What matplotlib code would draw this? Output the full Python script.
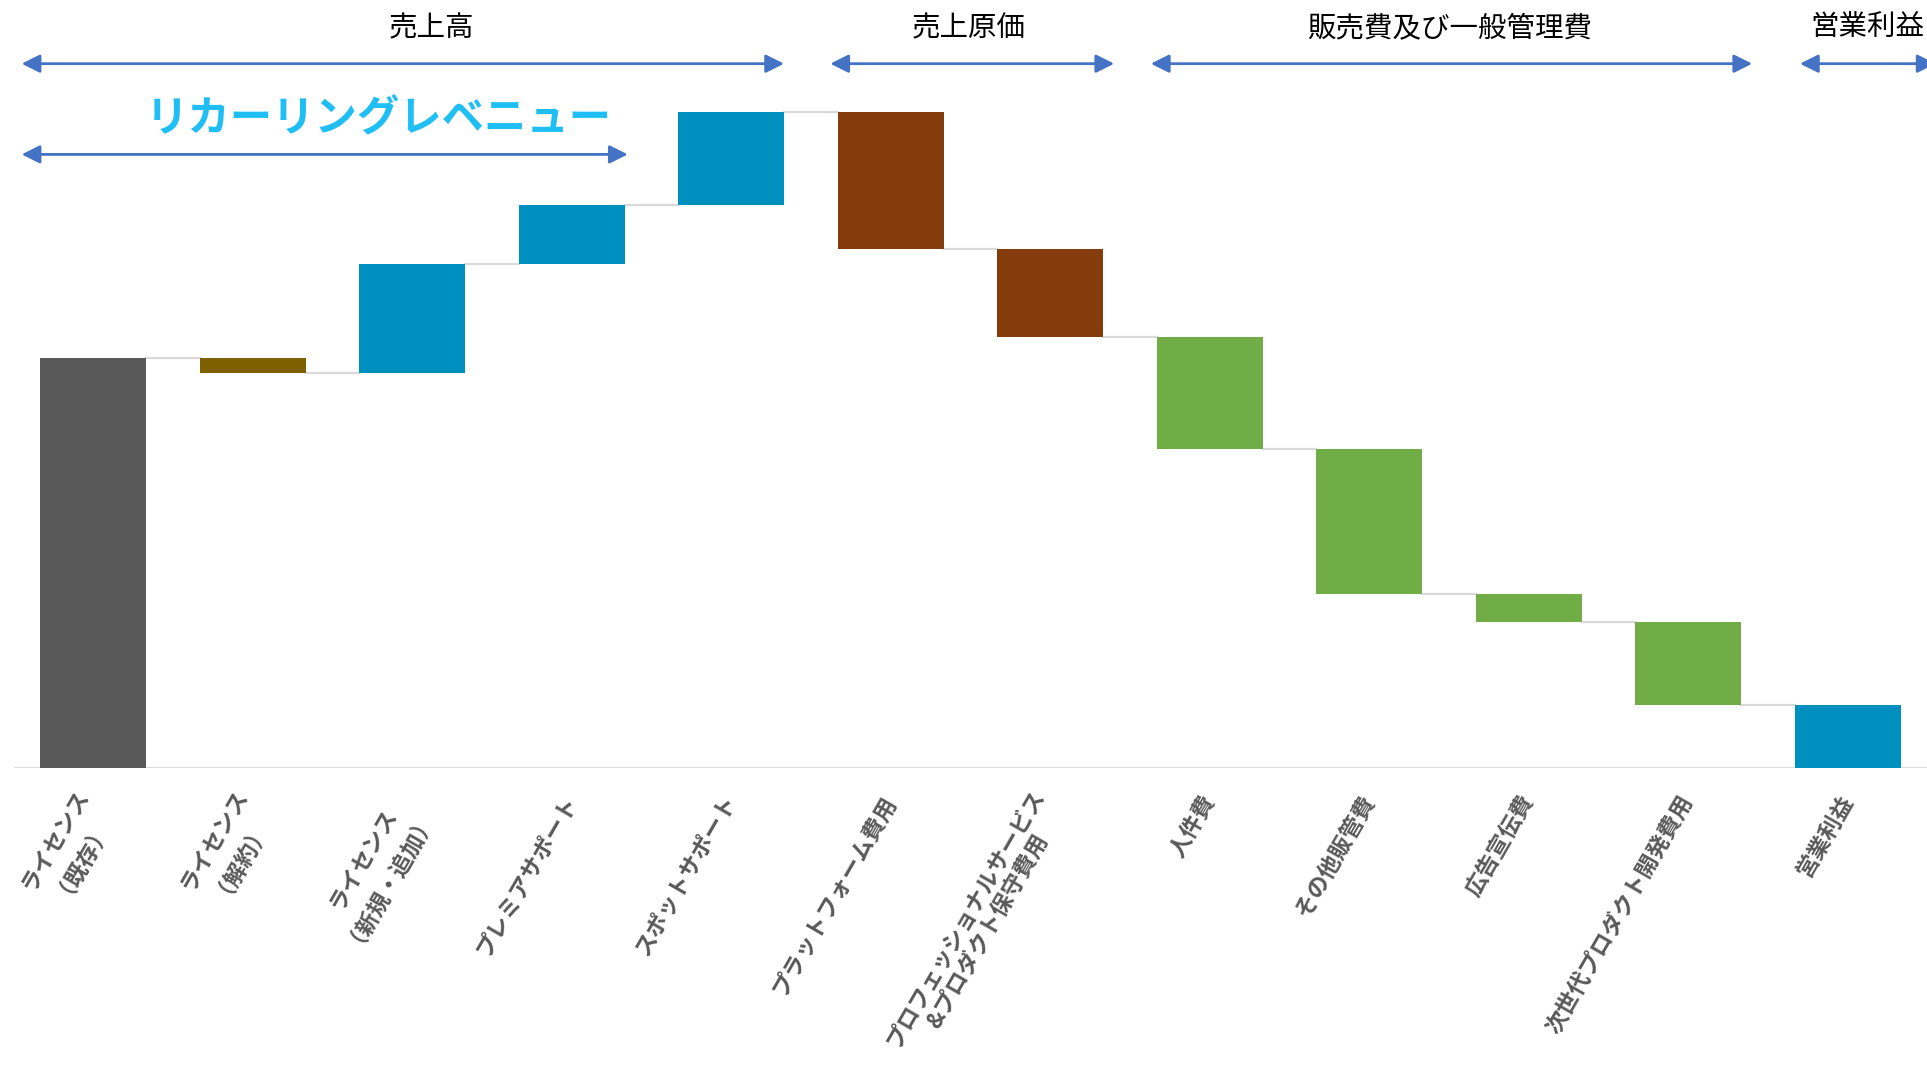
import matplotlib
matplotlib.use("Agg")
import matplotlib.pyplot as plt

plt.rcParams['font.family'] = ['Noto Sans CJK JP', 'DejaVu Sans']

# waterfall data (arbitrary units)
categories = ['ライセンス\n（既存）', 'ライセンス\n（解約）', 'ライセンス\n（新規・追加）',
              'プレミアサポート', 'スポットサポート', 'プラットフォーム費用',
              'プロフェッショナルサービス\n&プロダクト保守費用', '人件費', 'その他販管費',
              '広告宣伝費', '次世代プロダクト開発費用', '営業利益']
values = [91.7, -3.4, 24.4, 13.3, 20.7, -30.6, -19.7, -25.0, -32.4, -6.3, -18.7, 14.0]
is_total = [True, False, False, False, False, False, False, False, False, False, False, True]
bar_colors = ['#595959', '#7F6000', '#0090BF', '#0090BF', '#0090BF', '#843C0C',
              '#843C0C', '#70AD47', '#70AD47', '#70AD47', '#70AD47', '#0090BF']

# section headers above the chart: (label, arrow start, arrow end, label x)
groups = [('売上高', -0.45, 4.33, 2.12),
          ('売上原価', 4.62, 6.40, 5.49),
          ('販売費及び一般管理費', 6.63, 10.40, 8.50),
          ('営業利益', 10.70, 11.55, 11.12)]
recurring = ('リカーリングレベニュー', -0.45, 3.35, 1.79)

arrow_col = '#4472C4'

fig = plt.figure(figsize=(19.27, 10.68), dpi=100)
ax = fig.add_axes([0.0071, 0.2809, 0.9932, 0.7191])

# bottoms and heights from running totals
bottoms = []
heights = []
levels = []
run = 0
for v, tot in zip(values, is_total):
    if tot:
        bottoms.append(0)
        heights.append(v)
        run = v
    else:
        bottoms.append(min(run, run + v))
        heights.append(abs(v))
        run = run + v
    levels.append(run)

x = list(range(len(values)))
w = 0.665
ax.bar(x, heights, bottom=bottoms, width=w, color=bar_colors, zorder=3)

# connectors
for i in range(len(values) - 1):
    ax.plot([i + w / 2, i + 1 - w / 2], [levels[i], levels[i]], color='#D9D9D9', lw=1.6, zorder=2)

ax.axhline(0, color='#D9D9D9', lw=2, zorder=1)

ax.set_xlim(-0.5, 11.5)
ax.set_ylim(0, 171.85)
for s in ax.spines.values():
    s.set_visible(False)
ax.set_yticks([])
ax.set_xticks(x)
ax.set_xticklabels(categories, rotation=60, ha='right', va='center',
                   rotation_mode='anchor', multialignment='center',
                   fontsize=16.3, fontweight='bold', color='#595959',
                   linespacing=1.1)
ax.tick_params(axis='x', length=0, pad=21)


def dbl_arrow(x0, x1, y):
    ax.annotate('', xy=(x1, y), xytext=(x0, y),
                arrowprops=dict(arrowstyle='<|-|>,head_length=1,head_width=0.5',
                                mutation_scale=11, lw=2, color=arrow_col,
                                shrinkA=0, shrinkB=0),
                annotation_clip=False)


for label, x0, x1, xl in groups:
    dbl_arrow(x0, x1, 157.6)
    ax.text(xl, 165.5, label, ha='center', va='center', fontsize=20.5, color='black',
            clip_on=False)

label, x0, x1, xl = recurring
dbl_arrow(x0, x1, 137.3)
ax.text(xl, 145.2, label, ha='center', va='center', fontsize=30.5, fontweight='bold',
        color='#1FBFF5')

fig.savefig('out.png', dpi=100)
